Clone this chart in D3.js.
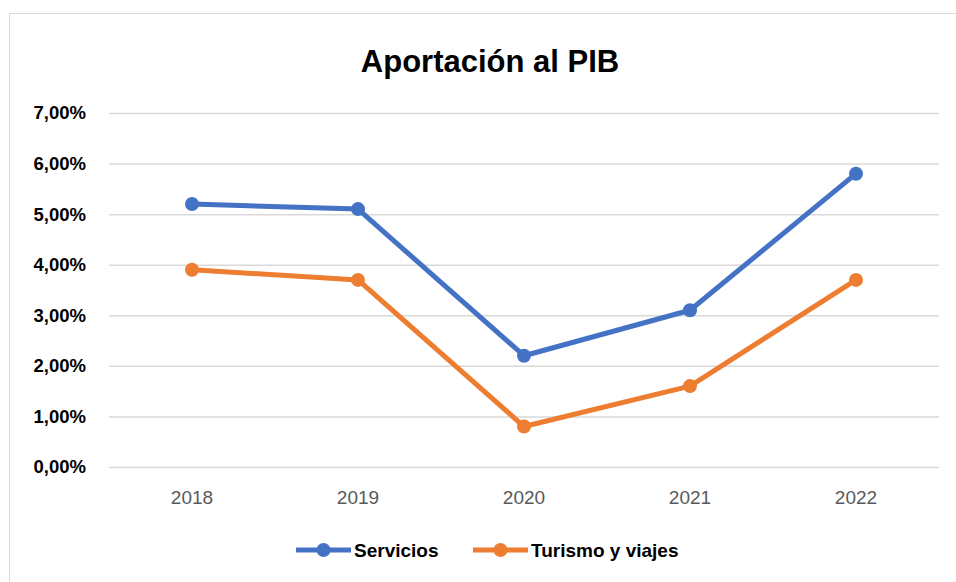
<!DOCTYPE html>
<html><head><meta charset="utf-8">
<script src="https://cdn.jsdelivr.net/npm/d3@7"></script>
<style>body{margin:0;background:#fff}svg{display:block}</style>
</head><body><svg id="c" width="956" height="582"></svg>
<script>
const categories = ["2018","2019","2020","2021","2022"];
const servicios = [5.2, 5.1, 2.2, 3.1, 5.8];
const turismo = [3.9, 3.7, 0.8, 1.6, 3.7];
const yTicks = [0,1,2,3,4,5,6,7];
const seriesNames = ["Servicios","Turismo y viajes"];
const colors = ["#4472C4","#ED7D31"];

const svg = d3.select("#c");
const FONT = "'Liberation Sans', Arial, sans-serif";
svg.append("rect").attr("x",9.5).attr("y",13.5).attr("width",960).attr("height",600)
  .attr("fill","#fff").attr("stroke","#d9d9d9").attr("stroke-width",1);

const x = d3.scaleBand().domain(categories).range([109,939]);
const y = d3.scaleLinear().domain([0,7]).range([467,113]);

svg.append("text").attr("x",490).attr("y",72).attr("text-anchor","middle")
  .attr("font-family",FONT).attr("font-weight","bold").attr("font-size",31)
  .attr("fill","#000").text("Aportación al PIB");

const yAxis = d3.axisLeft(y).tickValues(yTicks).tickSize(-(939-109))
  .tickFormat(d => d3.format(".2f")(d).replace(".",",") + "%");
const gy = svg.append("g").attr("transform","translate(109,0)").call(yAxis);
gy.select(".domain").remove();
gy.selectAll(".tick line").attr("stroke","#d9d9d9").attr("stroke-width",1.5);
gy.selectAll(".tick text").attr("x",-23).attr("font-family",FONT).attr("font-weight","bold")
  .attr("font-size",18.5).attr("fill","#000");

const xAxis = d3.axisBottom(x).tickSize(0);
const gx = svg.append("g").attr("transform","translate(0,467)").call(xAxis);
gx.select(".domain").remove();
gx.selectAll(".tick text").attr("dy",0).attr("y",37).attr("font-family",FONT)
  .attr("font-size",19).attr("fill","#595959");

const line = d3.line().x((d,i)=>x(categories[i])+x.bandwidth()/2).y(d=>y(d));
[servicios, turismo].forEach((s,k)=>{
  svg.append("path").datum(s).attr("d",line).attr("fill","none")
    .attr("stroke",colors[k]).attr("stroke-width",5).attr("stroke-linejoin","round");
  svg.selectAll(null).data(s).enter().append("circle")
    .attr("cx",(d,i)=>x(categories[i])+x.bandwidth()/2).attr("cy",d=>y(d))
    .attr("r",7).attr("fill",colors[k]);
});

const legX = [296, 473];
seriesNames.forEach((n,k)=>{
  const g = svg.append("g");
  g.append("line").attr("x1",legX[k]).attr("x2",legX[k]+55).attr("y1",550).attr("y2",550)
    .attr("stroke",colors[k]).attr("stroke-width",5);
  g.append("circle").attr("cx",legX[k]+27.5).attr("cy",550).attr("r",7).attr("fill",colors[k]);
  g.append("text").attr("x",legX[k]+58).attr("y",557).attr("font-family",FONT)
    .attr("font-weight","bold").attr("font-size",19).attr("fill","#000").text(n);
});
</script></body></html>
